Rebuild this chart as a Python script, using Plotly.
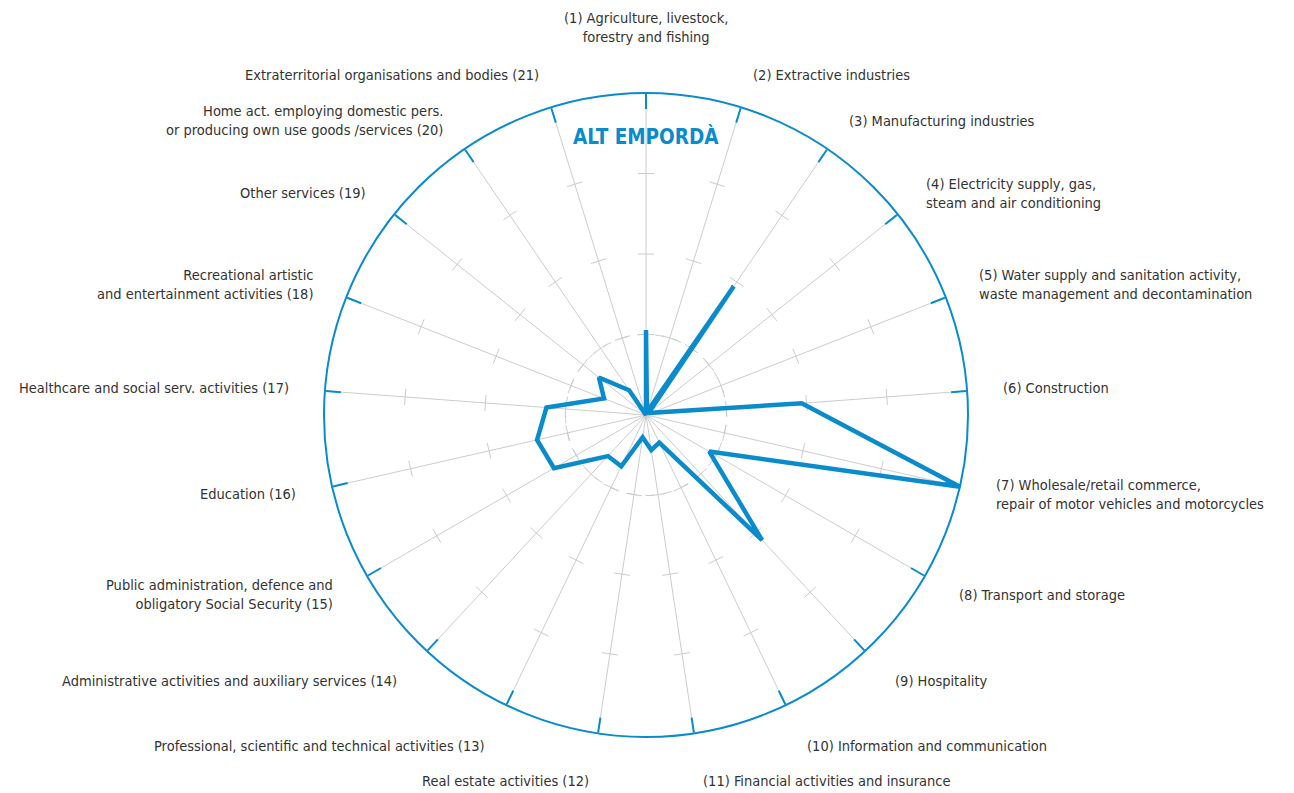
import math
import plotly.graph_objects as go

# ---- data ----
categories = [
    "(1) Agriculture, livestock,<br>forestry and fishing",
    "(2) Extractive industries",
    "(3) Manufacturing industries",
    "(4) Electricity supply, gas,<br>steam and air conditioning",
    "(5) Water supply and sanitation activity,<br>waste management and decontamination",
    "(6) Construction",
    "(7) Wholesale/retail commerce,<br>repair of motor vehicles and motorcycles",
    "(8) Transport and storage",
    "(9) Hospitality",
    "(10) Information and communication",
    "(11) Financial activities and insurance",
    "Real estate activities (12)",
    "Professional, scientific and technical activities (13)",
    "Administrative activities and auxiliary services (14)",
    "Public administration, defence and<br>obligatory Social Security (15)",
    "Education (16)",
    "Healthcare and social serv. activities (17)",
    "Recreational artistic<br>and entertainment activities (18)",
    "Other services (19)",
    "Home act. employing domestic pers.<br>or producing own use goods /services (20)",
    "Extraterritorial organisations and bodies (21)",
]
values = [0.264, 0.01, 0.484, 0.01, 0.02, 0.485, 1.0, 0.227, 0.53, 0.095, 0.11,
          0.07, 0.177, 0.174, 0.33, 0.347, 0.31, 0.14, 0.187, 0.093, 0.0]
radial_levels = [0.25, 0.5, 0.75, 1.0]
title_text = "ALT EMPORDÀ"

# ---- styles / geometry ----
BLUE = "#0a8bcb"
GREY = "#cccccc"
TEXT = "#333333"
FONT = "DejaVu Sans Condensed, Roboto, sans-serif"
W, H = 1294, 793
CX, CY, RAD = 638, 407, 322  # polar centre / radius in figure pixels (page body adds 8px)

n = len(categories)
step = 360.0 / n
angles = [i * step for i in range(n)]

fig = go.Figure()

# tick marks crossing each spoke
half = 0.025
tr, tt = [], []
for a in angles:
    for lv in radial_levels[:-1]:
        d = math.degrees(math.atan(half / lv))
        rr = math.hypot(lv, half)
        tr += [rr, rr, None]
        tt += [a - d, a + d, None]
fig.add_trace(go.Scatterpolar(r=tr, theta=tt, mode="lines",
                              line=dict(color=GREY, width=1),
                              hoverinfo="skip", showlegend=False))

# data polygon
fig.add_trace(go.Scatterpolar(r=values + [values[0]], theta=angles + [angles[0]],
                              mode="lines", line=dict(color=BLUE, width=4.5),
                              showlegend=False))

# category labels as annotations placed around the circle
annotations = []
for a, lab in zip(angles, categories):
    t = math.radians(a)
    c = math.cos(t)
    rpx = 356 + 14 * max(0.0, -c) ** 2
    px = CX + rpx * math.sin(t)
    py = CY - rpx * c
    if a == 0:
        xa, ya, al = "center", "bottom", "center"
        py -= 12
    elif a < 180:
        xa, ya, al = "left", "middle", "left"
    else:
        xa, ya, al = "right", "middle", "right"
    annotations.append(dict(x=px / W, y=1 - py / H, xref="paper", yref="paper",
                            text=lab, showarrow=False, xanchor=xa, yanchor=ya, align=al,
                            font=dict(family=FONT, size=14.5, color=TEXT)))

# title inside the circle
annotations.append(dict(x=CX / W, y=1 - (CY - 0.865 * RAD) / H, xref="paper", yref="paper",
                        text=f"<b>{title_text}</b>", showarrow=False,
                        xanchor="center", yanchor="middle",
                        font=dict(family=FONT, size=20.5, color=BLUE)))

fig.update_layout(
    width=W, height=H,
    margin=dict(l=0, r=0, t=0, b=0),
    paper_bgcolor="white", plot_bgcolor="white",
    showlegend=False,
    annotations=annotations,
    polar=dict(
        domain=dict(x=[(CX - RAD) / W, (CX + RAD) / W],
                    y=[(H - CY - RAD) / H, (H - CY + RAD) / H]),
        bgcolor="white",
        radialaxis=dict(range=[0, 1], tickvals=[radial_levels[0]], showticklabels=False,
                        ticks="", showline=False, showgrid=True, gridcolor=GREY,
                        griddash="dash", gridwidth=1),
        angularaxis=dict(rotation=90, direction="clockwise", thetaunit="degrees",
                         tickvals=angles, showticklabels=False,
                         ticks="inside", ticklen=15, tickwidth=2, tickcolor=BLUE,
                         showline=True, linecolor=BLUE, linewidth=2,
                         showgrid=True, gridcolor=GREY, gridwidth=1),
    ),
)

fig.write_html("out.html")
